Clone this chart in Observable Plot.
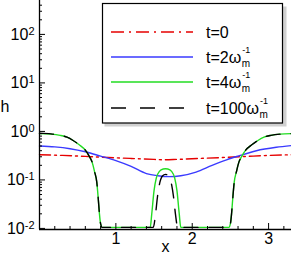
<!DOCTYPE html>
<html><head><meta charset="utf-8">
<script src="https://cdn.jsdelivr.net/npm/d3@7"></script>
<script src="https://cdn.jsdelivr.net/npm/@observablehq/plot@0.6"></script>
<style>
body{margin:0;background:#fff}
#chart{position:relative;width:291px;height:254px;overflow:hidden}
</style>
</head><body><div id="chart"></div>
<script>
// ---- data ----
const xT0 = [0,0.3,0.6,0.9,1.2,1.5,1.65,1.8,2.1,2.4,2.7,3.0,3.3];
const hT0 = [0.33,0.32,0.305,0.29,0.277,0.265,0.26,0.265,0.277,0.29,0.305,0.32,0.33];

const xT2 = [0,0.2,0.4,0.6,0.8,1.0,1.2,1.4,1.55,1.7,1.85,2.05,2.26,2.45,2.6,2.84,3.1,3.3];
const hT2 = [0.50,0.48,0.44,0.38,0.31,0.25,0.19,0.135,0.122,0.117,0.122,0.145,0.2,0.26,0.31,0.40,0.47,0.51];

const xT4 = [0,0.15,0.27,0.36,0.44,0.52,0.60,0.65,0.69,0.72,0.75,0.77,0.785,0.80,0.82,
             1.45,1.47,1.50,1.53,1.57,1.62,1.65,1.68,1.73,1.77,1.80,1.83,1.85,
             2.48,2.50,2.515,2.53,2.55,2.58,2.61,2.65,2.70,2.78,2.86,2.94,3.03,3.15,3.3];
const hT4 = [0.9,0.88,0.83,0.76,0.65,0.53,0.41,0.31,0.23,0.15,0.09,0.04,0.02,0.0125,0.0105,
             0.0105,0.02,0.06,0.11,0.15,0.168,0.17,0.168,0.15,0.11,0.06,0.02,0.0105,
             0.0105,0.0125,0.02,0.04,0.09,0.15,0.23,0.31,0.41,0.53,0.65,0.76,0.83,0.88,0.9];

const xT100 = [0,0.15,0.27,0.36,0.44,0.52,0.60,0.65,0.69,0.72,0.75,0.77,0.785,0.80,0.82,
               1.49,1.52,1.545,1.57,1.61,1.65,1.69,1.73,1.755,1.78,1.81,
               2.48,2.50,2.515,2.53,2.55,2.58,2.61,2.65,2.70,2.78,2.86,2.94,3.03,3.15,3.3];
const hT100 = [0.92,0.89,0.83,0.76,0.65,0.53,0.41,0.31,0.23,0.15,0.09,0.04,0.02,0.0125,0.0105,
               0.0105,0.02,0.045,0.08,0.12,0.13,0.12,0.08,0.045,0.02,0.0105,
               0.0105,0.0125,0.02,0.04,0.09,0.15,0.23,0.31,0.41,0.53,0.65,0.76,0.83,0.88,0.9];

const seriesNames = ["t=0","t=2","t=4","t=100"];
const legendMain = ["t=0","t=2\u03c9","t=4\u03c9","t=100\u03c9"];
const legendSup = ["","-1","-1","-1"];
const legendSub = ["","m","m","m"];

const xDomain = [0, 3.3];
const yDomain = [0.0095, 500];
const xMajor = [1,2,3];
const xMinor = [0.2,0.4,0.6,0.8,1.2,1.4,1.6,1.8,2.2,2.4,2.6,2.8,3.2];
const yMajor = [0.01,0.1,1,10,100];
const yMinor = [];
for (const e of [-2,-1,0,1,2]) for (let m = 2; m <= 9; m++) { const v = m*Math.pow(10,e); if (v < 500) yMinor.push(v); }

// ---- styles ----
const colors = ["#e60000","#3a3aff","#22dd22","#000000"];
const dashes = ["11,4,2,4", null, null, "14,11"];
const W = 291, H = 254, mL = 39, mB = 25, mT = 0, mR = 0;
const frameW = W - mL - mR, frameH = H - mT - mB;

const xs = [xT0, xT2, xT4, xT100], hs = [hT0, hT2, hT4, hT100];
const lineMarks = xs.map((xa, i) => {
  const rows = xa.map((x, j) => ({x, h: hs[i][j]}));
  return Plot.line(rows, {x: "x", y: "h", stroke: colors[i], strokeWidth: 1.4,
    strokeDasharray: dashes[i] || undefined, curve: "monotone-x"});
});

const plot = Plot.plot({
  width: W, height: H,
  marginLeft: mL, marginRight: mR, marginTop: mT, marginBottom: mB,
  style: {fontFamily: "'Liberation Sans', Arial, sans-serif", fontSize: "16px", color: "#000", background: "#fff", overflow: "visible"},
  x: {domain: xDomain},
  y: {type: "log", domain: yDomain},
  marks: [
    ...lineMarks,
    Plot.ruleX(xMajor, {insetTop: frameH - 6, stroke: "#000"}),
    Plot.ruleX(xMinor, {insetTop: frameH - 3, stroke: "#000"}),
    Plot.ruleY(yMajor, {insetRight: frameW - 6, stroke: "#000"}),
    Plot.ruleY(yMinor, {insetRight: frameW - 3, stroke: "#000"}),
    Plot.ruleX([xDomain[0]], {stroke: "#000", strokeWidth: 1.3}),
    Plot.ruleY([yDomain[0]], {stroke: "#000", strokeWidth: 1.3}),
    Plot.axisX(xMajor, {tickSize: 0, tickPadding: 3, tickFormat: d => String(d), label: null}),
    Plot.axisY(yMajor, {tickSize: 0, tickPadding: 5, tickFormat: d => "10^" + Math.round(Math.log10(d)), label: null}),
    Plot.text(["h"], {text: d => d, frameAnchor: "left", dx: -mL, dy: -8, textAnchor: "start", fontSize: 16}),
    Plot.text(["x"], {text: d => d, frameAnchor: "bottom", dy: 22, fontSize: 16})
  ]
});

document.getElementById("chart").appendChild(plot);
const svg = d3.select(plot);

// superscript exponents on y tick labels
svg.selectAll('g[aria-label="y-axis tick label"] text').each(function() {
  const t = d3.select(this);
  const s = t.text();
  if (!s.includes("^")) return;
  const [base, ex] = s.split("^");
  t.text(null);
  t.append("tspan").text(base);
  t.append("tspan").attr("dy", "-0.45em").attr("font-size", "11px").text(ex);
});

// legend box
const lg = svg.append("g").attr("text-anchor", "start");
lg.append("rect").attr("x", 104.5).attr("y", 6.5).attr("width", 182).attr("height", 120)
  .attr("fill", "#d0d0d0");
lg.append("rect").attr("x", 102.5).attr("y", 3.5).attr("width", 180).attr("height", 119.5)
  .attr("fill", "#fff").attr("stroke", "#000").attr("stroke-width", 1.2);
const rowY = [32, 57, 82, 108];
seriesNames.forEach((name, i) => {
  const y = rowY[i];
  lg.append("line").attr("x1", 111).attr("x2", 193).attr("y1", y).attr("y2", y)
    .attr("stroke", colors[i]).attr("stroke-width", 1.4)
    .attr("stroke-dasharray", i === 0 ? "13,5,2,5" : (i === 3 ? "15,14" : null));
  const t = lg.append("text").attr("x", 206).attr("y", y).attr("dy", "0.35em")
    .attr("text-anchor", "start").attr("font-size", 16).attr("fill", "#000").text(legendMain[i]);
  if (legendSup[i]) {
    const w = t.node().getComputedTextLength();
    lg.append("text").attr("x", 206 + w + 1).attr("y", y - 4).attr("text-anchor", "start")
      .attr("font-size", 9).text(legendSup[i]);
    lg.append("text").attr("x", 206 + w + 0.5).attr("y", y + 10).attr("text-anchor", "start")
      .attr("font-size", 10).text(legendSub[i]);
  }
});
</script>
</body></html>
